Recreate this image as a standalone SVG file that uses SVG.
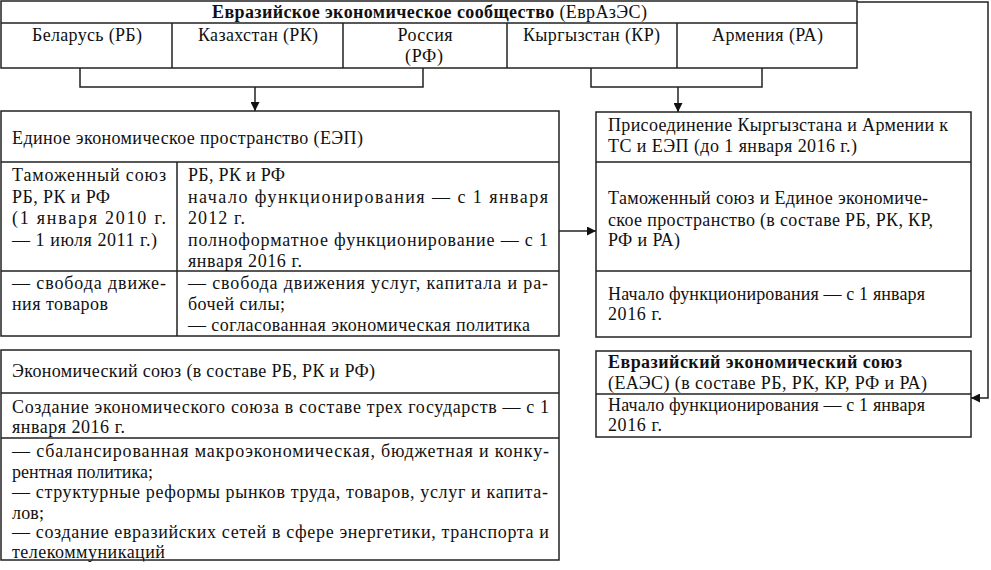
<svg xmlns="http://www.w3.org/2000/svg" width="991" height="570" viewBox="0 0 991 570">
<style>
.bx{fill:#fff;stroke:#222;stroke-width:1.5}
.ln{fill:none;stroke:#222;stroke-width:1.5}
.t{font-family:"Liberation Serif","Times New Roman",serif;font-size:18px;fill:#111}
.c{text-anchor:middle}
.b{font-weight:bold}
</style>
<defs>
<marker id="ah" viewBox="0 0 10 10" refX="10" refY="5" markerWidth="10" markerHeight="9" markerUnits="userSpaceOnUse" orient="auto">
<path d="M0,0 L10,5 L0,10 Z" fill="#111"/>
</marker>
</defs>
<rect width="991" height="570" fill="#fff"/>
<g id="connectors">
<path class="ln" d="M80,68 V87 H423 V68"/>
<path class="ln" d="M255,87 V111" marker-end="url(#ah)"/>
<path class="ln" d="M591,68 V87 H762 V68"/>
<path class="ln" d="M678,87 V112" marker-end="url(#ah)"/>
<path class="ln" d="M857,2 H988 V398 H971" marker-end="url(#ah)"/>
<path class="ln" d="M559,231 H596" marker-end="url(#ah)"/>
</g>
<g id="evrazes">
<rect class="bx" x="1" y="1" width="856" height="67"/>
<path class="ln" d="M1,23 H857 M172,23 V68 M343,23 V68 M507,23 V68 M677,23 V68"/>
<text class="t c" x="429.5" y="18" textLength="435" lengthAdjust="spacing"><tspan class="b">Евразийское экономическое сообщество</tspan> (ЕврАзЭС)</text>
<text class="t c" x="87" y="41" textLength="110" lengthAdjust="spacing">Беларусь (РБ)</text>
<text class="t c" x="258" y="41" textLength="120" lengthAdjust="spacing">Казахстан (РК)</text>
<text class="t c" x="425" y="41" textLength="55" lengthAdjust="spacing">Россия</text>
<text class="t c" x="424" y="62" textLength="38" lengthAdjust="spacing">(РФ)</text>
<text class="t c" x="591.5" y="41" textLength="137" lengthAdjust="spacing">Кыргызстан (КР)</text>
<text class="t c" x="767.5" y="41" textLength="111" lengthAdjust="spacing">Армения (РА)</text>
</g>
<g id="eep">
<rect class="bx" x="1" y="111" width="558" height="225"/>
<path class="ln" d="M1,162 H559 M1,271 H559 M177,162 V336"/>
<text class="t" x="12" y="144" textLength="351" lengthAdjust="spacing">Единое экономическое пространство (ЕЭП)</text>
<text class="t" x="12" y="181" textLength="154" lengthAdjust="spacing">Таможенный союз</text>
<text class="t" x="12" y="202.5" textLength="98" lengthAdjust="spacing">РБ, РК и РФ</text>
<text class="t" x="12" y="224" textLength="154" lengthAdjust="spacing">(1 января 2010 г.</text>
<text class="t" x="12" y="245.5" textLength="145" lengthAdjust="spacing">— 1 июля 2011 г.)</text>
<text class="t" x="188" y="181" textLength="97" lengthAdjust="spacing">РБ, РК и РФ</text>
<text class="t" x="188" y="202.5" textLength="360" lengthAdjust="spacing">начало функционирования — с 1 января</text>
<text class="t" x="188" y="224" textLength="57" lengthAdjust="spacing">2012 г.</text>
<text class="t" x="188" y="245.5" textLength="360" lengthAdjust="spacing">полноформатное функционирование — с 1</text>
<text class="t" x="188" y="267" textLength="114" lengthAdjust="spacing">января 2016 г.</text>
<text class="t" x="12" y="289" textLength="154" lengthAdjust="spacing">— свобода движе-</text>
<text class="t" x="12" y="310" textLength="96" lengthAdjust="spacing">ния товаров</text>
<text class="t" x="188" y="289" textLength="360" lengthAdjust="spacing">— свобода движения услуг, капитала и ра-</text>
<text class="t" x="188" y="310" textLength="97" lengthAdjust="spacing">бочей силы;</text>
<text class="t" x="188" y="331" textLength="342" lengthAdjust="spacing">— согласованная экономическая политика</text>
</g>
<g id="accession">
<rect class="bx" x="596" y="112" width="375" height="225"/>
<path class="ln" d="M596,162 H971 M596,271 H971"/>
<text class="t" x="608" y="131" textLength="340" lengthAdjust="spacing">Присоединение Кыргызстана и Армении к</text>
<text class="t" x="608" y="152" textLength="249" lengthAdjust="spacing">ТС и ЕЭП (до 1 января 2016 г.)</text>
<text class="t" x="608" y="204" textLength="320" lengthAdjust="spacing">Таможенный союз и Единое экономиче-</text>
<text class="t" x="608" y="225.5" textLength="325" lengthAdjust="spacing">ское пространство (в составе РБ, РК, КР,</text>
<text class="t" x="608" y="246" textLength="72" lengthAdjust="spacing">РФ и РА)</text>
<text class="t" x="608" y="299.5" textLength="317" lengthAdjust="spacing">Начало функционирования — с 1 января</text>
<text class="t" x="608" y="320" textLength="54" lengthAdjust="spacing">2016 г.</text>
</g>
<g id="eaes">
<rect class="bx" x="596" y="351" width="375" height="86"/>
<path class="ln" d="M596,394 H971"/>
<text class="t b" x="608" y="368" textLength="294" lengthAdjust="spacing">Евразийский экономический союз</text>
<text class="t" x="608" y="389" textLength="319" lengthAdjust="spacing">(ЕАЭС) (в составе РБ, РК, КР, РФ и РА)</text>
<text class="t" x="608" y="411" textLength="317" lengthAdjust="spacing">Начало функционирования — с 1 января</text>
<text class="t" x="608" y="431" textLength="54" lengthAdjust="spacing">2016 г.</text>
</g>
<g id="economic-union">
<rect class="bx" x="1" y="350" width="558" height="210"/>
<path class="ln" d="M1,393 H559 M1,438 H559"/>
<text class="t" x="12" y="377" textLength="363" lengthAdjust="spacing">Экономический союз (в составе РБ, РК и РФ)</text>
<text class="t" x="12" y="413" textLength="537" lengthAdjust="spacing">Создание экономического союза в составе трех государств — с 1</text>
<text class="t" x="12" y="433" textLength="113" lengthAdjust="spacing">января 2016 г.</text>
<text class="t" x="12" y="457" textLength="537" lengthAdjust="spacing">— сбалансированная макроэкономическая, бюджетная и конку-</text>
<text class="t" x="12" y="477.5" textLength="141" lengthAdjust="spacing">рентная политика;</text>
<text class="t" x="12" y="498" textLength="536" lengthAdjust="spacing">— структурные реформы рынков труда, товаров, услуг и капита-</text>
<text class="t" x="12" y="518.5" textLength="32" lengthAdjust="spacing">лов;</text>
<text class="t" x="12" y="537.5" textLength="537" lengthAdjust="spacing">— создание евразийских сетей в сфере энергетики, транспорта и</text>
<text class="t" x="12" y="558" textLength="153" lengthAdjust="spacing">телекоммуникаций</text>
</g>
</svg>
